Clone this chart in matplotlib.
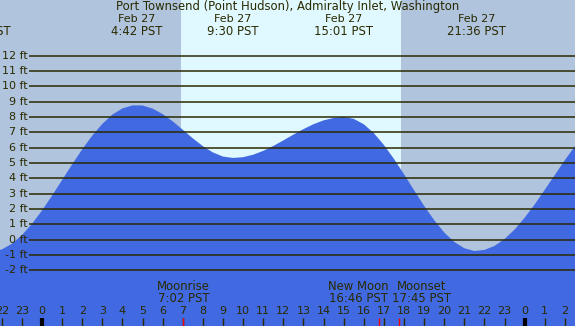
import numpy as np
import matplotlib.pyplot as plt

# tide heights (ft) read every half hour, from 22:30 Feb 26 to 03:00 Feb 28
tide_hours = np.arange(-2.5, 27.01, 0.5)
tide_ft = [-0.80, -0.64, -0.27, 0.29, 1.03, 1.90, 2.87, 3.89, 4.91, 5.89,
           6.79, 7.55, 8.16, 8.56, 8.76, 8.75, 8.55, 8.19, 7.72, 7.17,
           6.61, 6.10, 5.69, 5.42, 5.33, 5.38, 5.54, 5.79, 6.11, 6.47,
           6.85, 7.21, 7.53, 7.78, 7.94, 8.00, 7.88, 7.53, 6.95, 6.18,
           5.27, 4.27, 3.23, 2.21, 1.28, 0.47, -0.15, -0.56, -0.74, -0.67,
           -0.41, 0.04, 0.66, 1.43, 2.30, 3.25, 4.22, 5.19, 6.09, 6.91]

# high / low tide labels along the top
event_hours = [-3.03, 4.70, 9.50, 15.017, 21.60]
event_dates = ['Feb 26', 'Feb 27', 'Feb 27', 'Feb 27', 'Feb 27']
event_times = ['20:58 PST', '4:42 PST', '9:30 PST', '15:01 PST', '21:36 PST']

# moon events
moon_hours = [7.033, 16.767, 17.75]
moon_names = ['Moonrise', 'New Moon', 'Moonset']
moon_times = ['7:02 PST', '16:46 PST', '17:45 PST']
moon_label_x = [7.033, 15.72, 18.85]

sunrise, sunset = 6.91, 17.85
ft_levels = np.arange(-2, 13)
hour_ticks = np.arange(-2, 27)

night = '#b0c4de'
day = '#e0f8ff'
water = '#4169e1'
ink = '#2a2a00'

plt.rcParams['font.family'] = ['DejaVu Sans']
fs = 8.0

fig = plt.figure(figsize=(5.75, 3.26), dpi=100)
ax = fig.add_axes([0, 0, 1, 1])
ax.set_xlim(-2.088, 26.504)
ax.set_ylim(-5.632, 15.633)
ax.axis('off')
ax.add_patch(plt.Rectangle((-2.088, -5.632), 28.6, 21.3, color=night, zorder=0))
ax.axvspan(sunrise, sunset, color=day, zorder=1, lw=0)

ax.fill_between(tide_hours, tide_ft, -6, color=water, lw=0, zorder=2)

ax.hlines(ft_levels, -0.646, 26.6, color=ink, lw=1.1, zorder=3)
for f in ft_levels:
    ax.text(-0.72, f, f'{f} ft', ha='right', va='center', fontsize=fs, color=ink, zorder=4)

# hour ticks
for h in hour_ticks:
    lw = 3 if h % 24 == 0 else 1
    ax.vlines(h, -5.632, -5.11, color=ink if h % 24 else 'black', lw=lw, zorder=4)
    ax.text(h, -4.65, str(h % 24), ha='center', va='center', fontsize=fs, color=ink, zorder=4)
ax.vlines(moon_hours, -5.632, -5.11, color='red', lw=1, zorder=4)

for mx, name, tm in zip(moon_label_x, moon_names, moon_times):
    ax.text(mx, -3.08, name, ha='center', va='center', fontsize=8.4, color=ink, zorder=4)
    ax.text(mx, -3.87, tm, ha='center', va='center', fontsize=8.4, color=ink, zorder=4)

ax.text(12.2, 15.18, 'Port Townsend (Point Hudson), Admiralty Inlet, Washington',
        ha='center', va='center', fontsize=8.4, color=ink, zorder=4)
for eh, ed, et in zip(event_hours, event_dates, event_times):
    ax.text(eh, 14.39, ed, ha='center', va='center', fontsize=fs, color=ink, zorder=4)
    ax.text(eh, 13.55, et, ha='center', va='center', fontsize=8.4, color=ink, zorder=4)

fig.savefig('out.png', dpi=100)
